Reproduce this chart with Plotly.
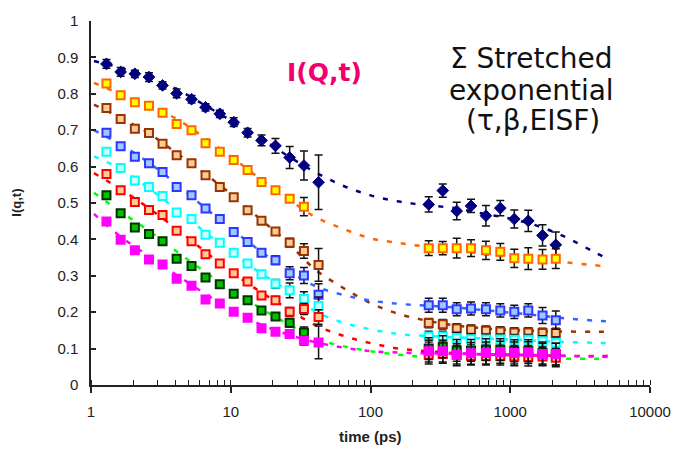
import plotly.graph_objects as go

# ---- measurement times (ps) ----
T_SHORT = [1.29, 1.63, 2.06, 2.6, 3.25, 4.1, 5.24, 6.6, 8.35, 10.5, 13.2, 16.6, 20.9, 26.4, 33.4, 42.5]
T_LONG = [261, 329, 414, 524, 670, 849, 1069, 1346, 1702, 2118]

# ---- time grid of the stretched-exponential fit curves ----
FIT_T = [1.05, 1.6, 2.5, 4, 6.3, 10, 16, 25, 40, 63, 100, 160, 250, 400, 630, 1000, 1600, 2500, 4000, 5000]

# ---- I(q,t) data, one block per Q ----
q1_short = [0.882, 0.860, 0.855, 0.846, 0.823, 0.801, 0.785, 0.763, 0.745, 0.722, 0.693, 0.672, 0.657, 0.625, 0.603, 0.557]
q1_short_err = [0.012, 0.012, 0.010, 0.012, 0.010, 0.012, 0.010, 0.010, 0.010, 0.012, 0.012, 0.015, 0.020, 0.030, 0.040, 0.075]
q1_long = [0.496, 0.534, 0.478, 0.492, 0.465, 0.486, 0.456, 0.451, 0.411, 0.385]
q1_long_err = [0.021, 0.018, 0.024, 0.018, 0.028, 0.021, 0.025, 0.029, 0.029, 0.035]
q1_fit = [0.890, 0.872, 0.848, 0.815, 0.772, 0.727, 0.680, 0.632, 0.585, 0.548, 0.521, 0.504, 0.494, 0.486, 0.471, 0.457, 0.436, 0.406, 0.365, 0.346]

q2_short = [0.828, 0.796, 0.777, 0.767, 0.748, 0.717, 0.700, 0.664, 0.641, 0.618, 0.591, 0.558, 0.535, 0.512, 0.490]
q2_short_err = [0.005, 0.005, 0.005, 0.005, 0.005, 0.005, 0.005, 0.005, 0.005, 0.005, 0.005, 0.005, 0.008, 0.010, 0.025]
q2_long = [0.376, 0.376, 0.376, 0.376, 0.370, 0.366, 0.348, 0.347, 0.345, 0.347]
q2_long_err = [0.020, 0.018, 0.027, 0.023, 0.025, 0.023, 0.025, 0.030, 0.027, 0.027]
q2_fit = [0.830, 0.800, 0.770, 0.733, 0.683, 0.628, 0.568, 0.515, 0.462, 0.430, 0.403, 0.390, 0.380, 0.370, 0.360, 0.352, 0.345, 0.337, 0.329, 0.325]

q3_short = [0.761, 0.731, 0.704, 0.692, 0.663, 0.631, 0.609, 0.576, 0.544, 0.516, 0.480, 0.451, 0.422, 0.391, 0.368, 0.330]
q3_short_err = [0.005, 0.005, 0.005, 0.005, 0.005, 0.005, 0.005, 0.005, 0.005, 0.005, 0.005, 0.005, 0.008, 0.012, 0.020, 0.045]
q3_long = [0.170, 0.167, 0.155, 0.152, 0.149, 0.147, 0.144, 0.144, 0.143, 0.143]
q3_long_err = [0.013, 0.013, 0.013, 0.013, 0.013, 0.013, 0.013, 0.013, 0.013, 0.013]
q3_fit = [0.770, 0.735, 0.695, 0.640, 0.585, 0.525, 0.458, 0.395, 0.318, 0.268, 0.225, 0.195, 0.177, 0.164, 0.156, 0.151, 0.148, 0.147, 0.146, 0.146]

q4_short = [0.693, 0.656, 0.627, 0.609, 0.585, 0.544, 0.521, 0.485, 0.456, 0.420, 0.393, 0.363, 0.343, 0.307, 0.301, 0.248]
q4_short_err = [0.005, 0.005, 0.005, 0.005, 0.005, 0.005, 0.005, 0.005, 0.005, 0.005, 0.005, 0.008, 0.012, 0.018, 0.022, 0.030]
q4_long = [0.219, 0.219, 0.208, 0.210, 0.208, 0.205, 0.201, 0.205, 0.191, 0.178]
q4_long_err = [0.019, 0.019, 0.018, 0.018, 0.018, 0.018, 0.018, 0.018, 0.022, 0.025]
q4_fit = [0.700, 0.662, 0.615, 0.555, 0.492, 0.430, 0.370, 0.318, 0.272, 0.248, 0.232, 0.223, 0.218, 0.213, 0.206, 0.199, 0.191, 0.183, 0.177, 0.175]

q5_short = [0.641, 0.596, 0.562, 0.544, 0.519, 0.474, 0.456, 0.413, 0.391, 0.363, 0.334, 0.304, 0.278, 0.260, 0.236, 0.217]
q5_short_err = [0.005, 0.005, 0.005, 0.005, 0.005, 0.005, 0.005, 0.005, 0.005, 0.005, 0.005, 0.008, 0.012, 0.020, 0.020, 0.025]
q5_long = [0.133, 0.133, 0.129, 0.126, 0.125, 0.125, 0.124, 0.124, 0.120, 0.116]
q5_long_err = [0.015, 0.015, 0.015, 0.015, 0.015, 0.015, 0.015, 0.015, 0.015, 0.015]
q5_fit = [0.628, 0.595, 0.545, 0.485, 0.425, 0.365, 0.310, 0.262, 0.203, 0.172, 0.153, 0.140, 0.135, 0.131, 0.128, 0.125, 0.121, 0.118, 0.116, 0.115]

q6_short = [0.580, 0.535, 0.503, 0.481, 0.467, 0.424, 0.395, 0.359, 0.334, 0.307, 0.284, 0.246, 0.233, 0.201, 0.209, 0.187]
q6_short_err = [0.005, 0.005, 0.005, 0.005, 0.005, 0.005, 0.005, 0.005, 0.005, 0.005, 0.005, 0.008, 0.010, 0.012, 0.015, 0.020]
q6_long = [0.083, 0.085, 0.083, 0.080, 0.080, 0.080, 0.078, 0.077, 0.078, 0.075]
q6_long_err = [0.025, 0.025, 0.025, 0.025, 0.025, 0.025, 0.025, 0.025, 0.025, 0.025]
q6_fit = [0.582, 0.540, 0.490, 0.432, 0.372, 0.312, 0.258, 0.212, 0.165, 0.136, 0.115, 0.100, 0.093, 0.088, 0.084, 0.082, 0.081, 0.080, 0.080, 0.080]

q7_short = [0.521, 0.472, 0.433, 0.415, 0.395, 0.347, 0.327, 0.295, 0.277, 0.251, 0.233, 0.205, 0.188, 0.171, 0.144]
q7_short_err = [0.005, 0.005, 0.005, 0.005, 0.005, 0.005, 0.005, 0.005, 0.005, 0.005, 0.005, 0.008, 0.008, 0.012, 0.015]
q7_long = [0.100, 0.105, 0.095, 0.095, 0.097, 0.097, 0.094, 0.094, 0.088, 0.085]
q7_long_err = [0.030, 0.030, 0.030, 0.030, 0.030, 0.030, 0.030, 0.030, 0.030, 0.030]
q7_fit = [0.528, 0.478, 0.428, 0.370, 0.315, 0.262, 0.213, 0.170, 0.128, 0.107, 0.093, 0.083, 0.077, 0.075, 0.073, 0.072, 0.072, 0.072, 0.072, 0.072]

q8_short = [0.449, 0.399, 0.370, 0.345, 0.331, 0.292, 0.273, 0.235, 0.224, 0.201, 0.185, 0.156, 0.146, 0.140, 0.122, 0.117]
q8_short_err = [0.005, 0.005, 0.005, 0.005, 0.005, 0.005, 0.005, 0.005, 0.005, 0.005, 0.005, 0.005, 0.008, 0.010, 0.012, 0.045]
q8_long = [0.093, 0.093, 0.083, 0.087, 0.088, 0.090, 0.088, 0.089, 0.085, 0.085]
q8_long_err = [0.030, 0.030, 0.030, 0.030, 0.030, 0.030, 0.030, 0.030, 0.030, 0.030]
q8_fit = [0.470, 0.410, 0.358, 0.305, 0.255, 0.207, 0.168, 0.140, 0.118, 0.103, 0.093, 0.089, 0.087, 0.086, 0.085, 0.084, 0.082, 0.080, 0.078, 0.077]

# ---- axis tick labels ----
X_TICKS = [1, 10, 100, 1000, 10000]
X_TICK_TEXT = ["1", "10", "100", "1000", "10000"]
Y_TICKS = [0, 0.1, 0.2, 0.3, 0.4, 0.5, 0.6, 0.7, 0.8, 0.9, 1.0]
Y_TICK_TEXT = ["0", "0.1", "0.2", "0.3", "0.4", "0.5", "0.6", "0.7", "0.8", "0.9", "1"]

# (short, short_err, long, long_err, fit, symbol, fill, edge, fit colour)
series = [
    (q1_short, q1_short_err, q1_long, q1_long_err, q1_fit, "diamond", "#000080", "#000080", "#000080"),
    (q2_short, q2_short_err, q2_long, q2_long_err, q2_fit, "square", "#FFFF00", "#FF6600", "#FF6600"),
    (q3_short, q3_short_err, q3_long, q3_long_err, q3_fit, "square", "#FFCC99", "#993300", "#993300"),
    (q4_short, q4_short_err, q4_long, q4_long_err, q4_fit, "square", "#99CCFF", "#3333FF", "#3366FF"),
    (q5_short, q5_short_err, q5_long, q5_long_err, q5_fit, "square", "#CCFFFF", "#00FFFF", "#00FFFF"),
    (q6_short, q6_short_err, q6_long, q6_long_err, q6_fit, "square", "#FFCC99", "#FF0000", "#FF0000"),
    (q7_short, q7_short_err, q7_long, q7_long_err, q7_fit, "square", "#00C000", "#003300", "#00FF00"),
    (q8_short, q8_short_err, q8_long, q8_long_err, q8_fit, "square", "#FF00FF", "#FF00FF", "#FF00FF"),
]

fig = go.Figure()

# fitted curves underneath the data
for s in series:
    fig.add_trace(go.Scatter(
        x=FIT_T, y=s[4], mode="lines", line_shape="spline",
        line=dict(color=s[8], width=2.5, dash="5px,9px"),
        hoverinfo="skip", showlegend=False))

# data points with error bars
for s in series:
    short, short_err, long_, long_err = s[0], s[1], s[2], s[3]
    xs = T_SHORT[:len(short)] + T_LONG
    ys = short + long_
    es = short_err + long_err
    is_diamond = s[5] == "diamond"
    fig.add_trace(go.Scatter(
        x=xs, y=ys, mode="markers",
        marker=dict(symbol=s[5], size=9 if is_diamond else 8, color=s[6],
                    line=dict(color=s[7], width=1 if is_diamond else 2)),
        error_y=dict(type="data", array=es, color="#111111", thickness=1.5, width=4),
        showlegend=False))

L, R, T, B = 91, 32, 16, 66
W, H = 683, 451
PW, PH = W - L - R, H - T - B


def px(xpix):
    return (xpix - L) / PW


def py(ypix):
    return (H - B - ypix) / PH


tick_font = dict(family="Liberation Sans, Arial, sans-serif", size=15, color="#222222")

fig.update_layout(
    width=W, height=H, autosize=False,
    margin=dict(l=L, r=R, t=T, b=B, pad=0),
    paper_bgcolor="white", plot_bgcolor="white",
    showlegend=False,
    xaxis=dict(
        type="log", range=[0, 4], tickvals=X_TICKS, ticktext=X_TICK_TEXT,
        showgrid=False, zeroline=False, showline=True, linecolor="#222222", linewidth=1.5,
        ticks="outside", ticklen=6, tickwidth=1.5, tickcolor="#222222",
        minor=dict(ticks="inside", ticklen=5, tickwidth=1.2, tickcolor="#222222",
                   dtick="D1", showgrid=False),
        tickfont=tick_font, ticklabelstandoff=6,
    ),
    yaxis=dict(
        range=[0, 1], tickvals=Y_TICKS, ticktext=Y_TICK_TEXT,
        showgrid=False, zeroline=False, showline=True, linecolor="#222222", linewidth=1.5,
        ticks="inside", ticklen=5, tickwidth=1.5, tickcolor="#222222",
        tickfont=tick_font, ticklabelstandoff=8,
    ),
)

annotations = [
    dict(text="<b>time (ps)</b>", x=px(371), y=py(437),
         font=dict(family="Liberation Sans, Arial, sans-serif", size=15, color="#222222")),
    dict(text="<b>I(q,t)</b>", x=px(16), y=py(200), textangle=-90,
         font=dict(family="Liberation Sans, Arial, sans-serif", size=13, color="#222222")),
    dict(text="<b>I(Q,t)</b>", x=px(325), y=py(68),
         font=dict(family="DejaVu Sans, sans-serif", size=25, color="#F0006E")),
    dict(text="Σ Stretched", x=px(532), y=py(54),
         font=dict(family="DejaVu Sans, sans-serif", size=28, color="#111111")),
    dict(text="exponential", x=px(532), y=py(86),
         font=dict(family="DejaVu Sans, sans-serif", size=28, color="#111111")),
    dict(text="(τ,β,EISF)", x=px(534), y=py(117),
         font=dict(family="DejaVu Sans, sans-serif", size=28, color="#111111")),
]
for a in annotations:
    fig.add_annotation(xref="paper", yref="paper", showarrow=False,
                       xanchor="center", yanchor="middle", **a)

fig.write_html("out.html")
